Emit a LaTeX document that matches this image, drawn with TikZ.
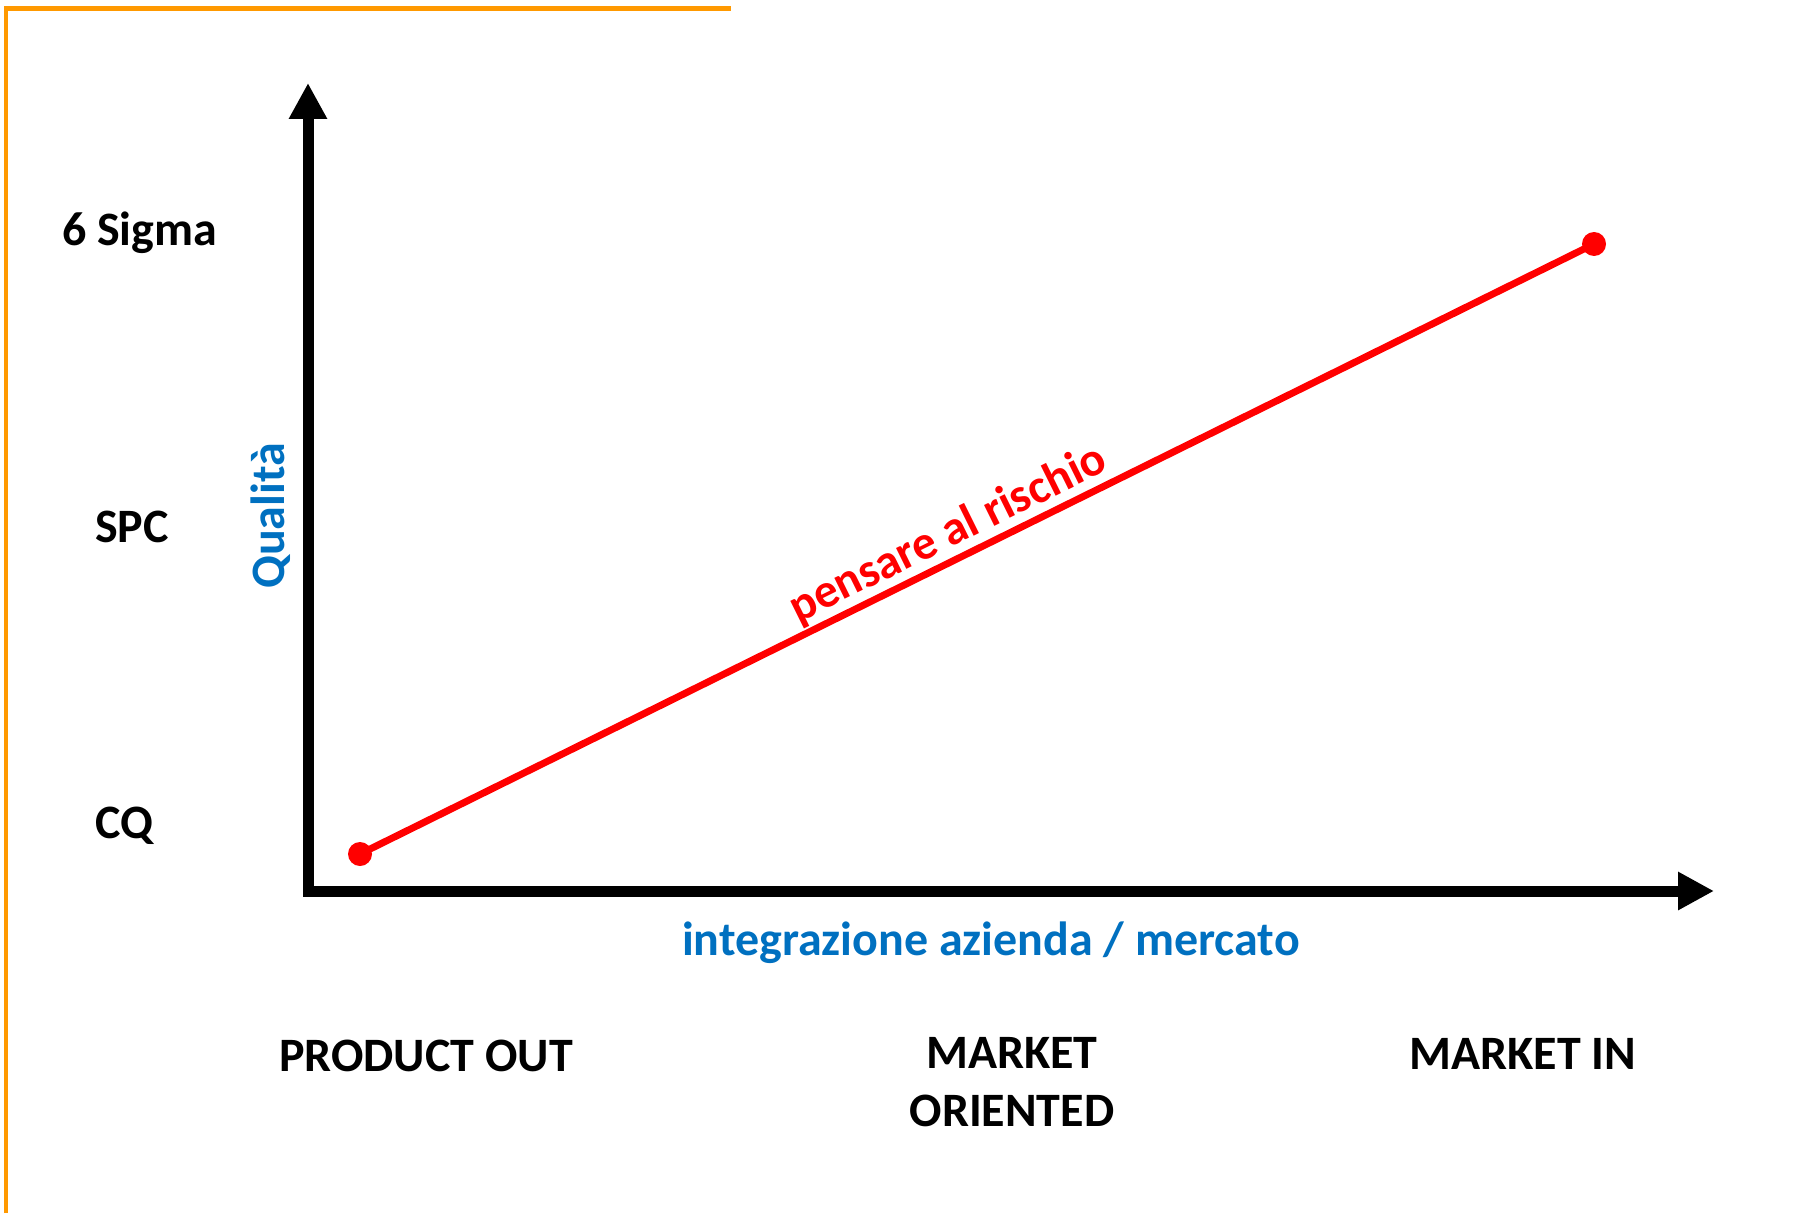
\documentclass[tikz,border=0pt]{standalone}
\usepackage{fontspec}
\setmainfont{Carlito}
\usepackage{tikz}
\usetikzlibrary{arrows.meta, positioning}
\definecolor{frameorange}{HTML}{FF9900}
\definecolor{axisblue}{HTML}{0070C0}
\definecolor{riskred}{HTML}{FF0000}

\tikzset{
  slidetext/.style={font=\fontsize{27.3}{33}\selectfont\bfseries, inner sep=1pt},
  levellabel/.style={slidetext, anchor=west},
  axislabel/.style={slidetext, axisblue},
  marketlabel/.style={slidetext, align=center},
  axisline/.style={line width=0.22cm, line join=miter, {Triangle[length=0.72cm, width=0.72cm]}-{Triangle[length=0.72cm, width=0.72cm]}},
  riskdot/.style={circle, fill=riskred, minimum size=0.48cm, inner sep=0pt}
}

\begin{document}
\begin{tikzpicture}[x=0.02cm, y=-0.02cm]
  \useasboundingbox (0,0) rectangle (1814,1213);

  % Slide frame - orange corner lines
  \draw[frameorange, line width=0.1cm] (6,1213) -- (6,9) -- (731,9);

  % Axes
  \coordinate (origin) at (308,891);
  \coordinate (ytip) at (308,83);
  \coordinate (xtip) at (1714,891);
  \draw[axisline] (ytip) -- (origin) -- (xtip);

  \node[axislabel, rotate=90] (quality) at (271,516) {Qualità};
  \node[axislabel] (integration) at (991,943) {integrazione azienda / mercato};

  % Quality levels
  \node[levellabel] (sigma) at (60,233) {6 Sigma};
  \node[levellabel] (spc) at (93,527) {SPC};
  \node[levellabel] (cq) at (93,826) {CQ};

  % Market orientation
  \node[marketlabel] (productout) at (426,1056) {PRODUCT OUT};
  \node[marketlabel] (oriented) at (1012,1082) {MARKET\\ORIENTED};
  \node[marketlabel] (marketin) at (1523,1054) {MARKET IN};

  % Risk-based thinking line
  \node[riskdot] (start) at (360,854) {};
  \node[riskdot] (finish) at (1594,244) {};
  \draw[riskred, line width=0.14cm] (start.center) -- (finish.center)
    node[slidetext, riskred, sloped, above, pos=0.486] (risk) {pensare al rischio};
\end{tikzpicture}
\end{document}
